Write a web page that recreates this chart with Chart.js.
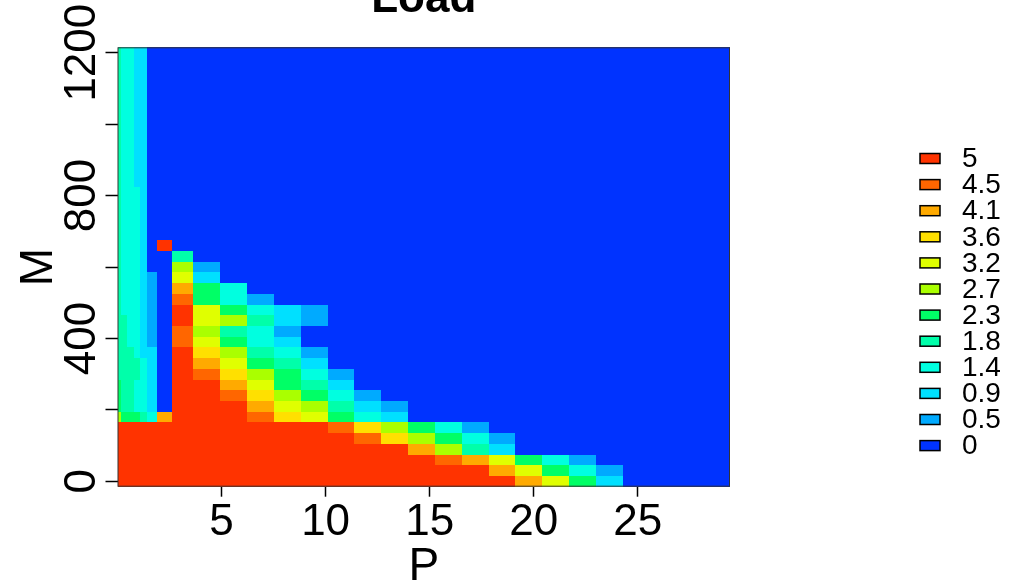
<!DOCTYPE html>
<html>
<head>
<meta charset="utf-8">
<script src="https://cdn.jsdelivr.net/npm/chart.js@4.4.1/dist/chart.umd.min.js"></script>
<style>
  body { margin: 0; background: #fff; }
  #wrap { width: 1023px; height: 587px; position: relative; }
</style>
</head>
<body>
<div id="wrap"><canvas id="loadChart"></canvas></div>
<script>
// P column breaks (cell edges), M row values (cell centres, 30 apart)
const pEdges = [0, 0.16, 0.46, 0.77, 1.06, 1.44, 1.92, 2.60, 3.65,
  4.94, 6.23, 7.52, 8.81, 10.10, 11.38, 12.67, 13.96, 15.25, 16.54,
  17.83, 19.12, 20.41, 21.70, 22.98, 24.27, 25.56, 26.85, 28.14, 29.43];
const mValues = [1200, 1170, 1140, 1110, 1080, 1050, 1020, 990, 960, 930, 900, 870, 840, 810,
  780, 750, 720, 690, 660, 630, 600, 570, 540, 510, 480, 450, 420, 390, 360, 330, 300,
  270, 240, 210, 180, 150, 120, 90, 60, 30, 0];
const mStep = 30;

// Load, one row per M value (top row = M 1200), one column per P cell
const load = [
  [1.8,1.4,1.4,0.9,0.9, 0,0,0,0,0, 0,0,0,0,0, 0,0,0,0,0, 0,0,0,0,0, 0,0,0],
  [1.8,1.4,1.4,0.9,0.9, 0,0,0,0,0, 0,0,0,0,0, 0,0,0,0,0, 0,0,0,0,0, 0,0,0],
  [1.8,1.4,1.4,0.9,0.9, 0,0,0,0,0, 0,0,0,0,0, 0,0,0,0,0, 0,0,0,0,0, 0,0,0],
  [1.8,1.4,1.4,0.9,0.9, 0,0,0,0,0, 0,0,0,0,0, 0,0,0,0,0, 0,0,0,0,0, 0,0,0],
  [1.8,1.4,1.4,0.9,0.9, 0,0,0,0,0, 0,0,0,0,0, 0,0,0,0,0, 0,0,0,0,0, 0,0,0],
  [1.8,1.4,1.4,0.9,0.9, 0,0,0,0,0, 0,0,0,0,0, 0,0,0,0,0, 0,0,0,0,0, 0,0,0],
  [1.8,1.4,1.4,0.9,0.9, 0,0,0,0,0, 0,0,0,0,0, 0,0,0,0,0, 0,0,0,0,0, 0,0,0],
  [1.8,1.4,1.4,0.9,0.9, 0,0,0,0,0, 0,0,0,0,0, 0,0,0,0,0, 0,0,0,0,0, 0,0,0],
  [1.8,1.4,1.4,0.9,0.9, 0,0,0,0,0, 0,0,0,0,0, 0,0,0,0,0, 0,0,0,0,0, 0,0,0],
  [1.8,1.4,1.4,0.9,0.9, 0,0,0,0,0, 0,0,0,0,0, 0,0,0,0,0, 0,0,0,0,0, 0,0,0],
  [1.8,1.4,1.4,0.9,0.9, 0,0,0,0,0, 0,0,0,0,0, 0,0,0,0,0, 0,0,0,0,0, 0,0,0],
  [1.8,1.4,1.4,0.9,0.9, 0,0,0,0,0, 0,0,0,0,0, 0,0,0,0,0, 0,0,0,0,0, 0,0,0],
  [1.8,1.4,1.4,0.9,0.9, 0,0,0,0,0, 0,0,0,0,0, 0,0,0,0,0, 0,0,0,0,0, 0,0,0],
  [1.8,1.4,1.4,1.4,0.9, 0,0,0,0,0, 0,0,0,0,0, 0,0,0,0,0, 0,0,0,0,0, 0,0,0],
  [1.8,1.4,1.4,1.4,0.9, 0,0,0,0,0, 0,0,0,0,0, 0,0,0,0,0, 0,0,0,0,0, 0,0,0],
  [1.8,1.4,1.4,1.4,0.9, 0,0,0,0,0, 0,0,0,0,0, 0,0,0,0,0, 0,0,0,0,0, 0,0,0],
  [1.8,1.4,1.4,1.4,0.9, 0,0,0,0,0, 0,0,0,0,0, 0,0,0,0,0, 0,0,0,0,0, 0,0,0],
  [1.8,1.4,1.4,1.4,0.9, 0,0,0,0,0, 0,0,0,0,0, 0,0,0,0,0, 0,0,0,0,0, 0,0,0],
  [1.8,1.4,1.4,1.4,0.9, 0,5,0,0,0, 0,0,0,0,0, 0,0,0,0,0, 0,0,0,0,0, 0,0,0],
  [1.8,1.4,1.4,1.4,0.9, 0,0,1.8,0,0, 0,0,0,0,0, 0,0,0,0,0, 0,0,0,0,0, 0,0,0],
  [1.8,1.4,1.4,1.4,0.9, 0,0,2.7,0.5,0, 0,0,0,0,0, 0,0,0,0,0, 0,0,0,0,0, 0,0,0],
  [1.8,1.4,1.4,1.4,0.9, 0.5,0,3.2,0.9,0, 0,0,0,0,0, 0,0,0,0,0, 0,0,0,0,0, 0,0,0],
  [1.8,1.4,1.4,1.4,0.9, 0.5,0,4.1,2.3,1.4, 0,0,0,0,0, 0,0,0,0,0, 0,0,0,0,0, 0,0,0],
  [1.8,1.4,1.4,1.4,0.9, 0.5,0,4.5,2.3,1.4, 0.5,0,0,0,0, 0,0,0,0,0, 0,0,0,0,0, 0,0,0],
  [1.8,1.4,1.4,1.4,0.9, 0.5,0,5,3.2,2.3, 1.4,0.9,0.5,0,0, 0,0,0,0,0, 0,0,0,0,0, 0,0,0],
  [1.8,1.8,1.4,1.4,0.9, 0.5,0,5,3.2,2.7, 1.8,0.9,0.5,0,0, 0,0,0,0,0, 0,0,0,0,0, 0,0,0],
  [1.8,1.8,1.4,1.4,0.9, 0.5,0,4.5,2.7,1.8, 1.4,0.5,0,0,0, 0,0,0,0,0, 0,0,0,0,0, 0,0,0],
  [1.8,1.8,1.4,1.4,0.9, 0.5,0,4.5,3.2,2.3, 1.4,0.9,0,0,0, 0,0,0,0,0, 0,0,0,0,0, 0,0,0],
  [1.8,1.8,1.8,1.4,0.9, 0.9,0,5,3.6,2.7, 1.8,1.4,0.5,0,0, 0,0,0,0,0, 0,0,0,0,0, 0,0,0],
  [1.8,1.8,1.8,1.8,1.4, 0.9,0,5,4.1,3.2, 2.3,1.8,0.9,0,0, 0,0,0,0,0, 0,0,0,0,0, 0,0,0],
  [1.8,1.8,1.8,1.8,1.4, 0.9,0,5,4.5,3.6, 2.7,2.3,1.4,0.5,0, 0,0,0,0,0, 0,0,0,0,0, 0,0,0],
  [2.3,1.8,1.8,1.4,1.4, 0.9,0,5,5,4.1, 3.2,2.3,1.8,0.9,0, 0,0,0,0,0, 0,0,0,0,0, 0,0,0],
  [2.3,1.8,1.8,1.4,1.4, 0.9,0,5,5,4.5, 3.6,2.7,2.3,1.4,0.5, 0,0,0,0,0, 0,0,0,0,0, 0,0,0],
  [2.3,1.8,1.8,1.4,1.4, 0.9,0,5,5,5, 4.1,3.2,2.7,1.8,0.9, 0.5,0,0,0,0, 0,0,0,0,0, 0,0,0],
  [2.7,2.3,2.3,2.3,1.8, 1.4,4.1,5,5,5, 4.5,3.6,3.2,2.3,1.4, 0.9,0,0,0,0, 0,0,0,0,0, 0,0,0],
  [5,5,5,5,5, 5,5,5,5,5, 5,5,5,4.5,3.6, 2.7,2.3,1.4,0.5,0, 0,0,0,0,0, 0,0,0],
  [5,5,5,5,5, 5,5,5,5,5, 5,5,5,5,4.5, 3.6,2.7,2.3,1.4,0.5, 0,0,0,0,0, 0,0,0],
  [5,5,5,5,5, 5,5,5,5,5, 5,5,5,5,5, 5,4.1,2.7,1.8,0.9, 0,0,0,0,0, 0,0,0],
  [5,5,5,5,5, 5,5,5,5,5, 5,5,5,5,5, 5,5,4.5,4.1,3.2, 2.3,1.4,0.5,0,0, 0,0,0],
  [5,5,5,5,5, 5,5,5,5,5, 5,5,5,5,5, 5,5,5,5,4.1, 3.2,2.3,1.4,0.5,0, 0,0,0],
  [5,5,5,5,5, 5,5,5,5,5, 5,5,5,5,5, 5,5,5,5,5, 4.1,3.2,2.3,0.9,0, 0,0,0]
];

const levels = [5, 4.5, 4.1, 3.6, 3.2, 2.7, 2.3, 1.8, 1.4, 0.9, 0.5, 0];
const levelColors = ['#FF3300', '#FF6600', '#FFAA00', '#FFE000', '#E0FF00', '#AAFF00',
  '#00FF66', '#00FFAA', '#00FFE0', '#00E0FF', '#00AAFF', '#0033FF'];

const xTicks = [5, 10, 15, 20, 25];
const yTicks = [0, 200, 400, 600, 800, 1000, 1200];
const yLabelled = [0, 400, 800, 1200];

const FONT = "'Liberation Sans', Arial, sans-serif";
Chart.defaults.font.family = FONT;
Chart.defaults.color = '#000';

// draws the grid cells through the chart's scales
const heatmap = {
  id: 'heatmap',
  beforeDatasetsDraw(chart) {
    const { ctx, scales: { x, y } } = chart;
    ctx.save();
    load.forEach((row, i) => {
      const top = Math.round(y.getPixelForValue(mValues[i] + mStep / 2));
      const bottom = Math.round(y.getPixelForValue(mValues[i] - mStep / 2));
      row.forEach((v, j) => {
        const left = Math.round(x.getPixelForValue(pEdges[j]));
        const right = Math.round(x.getPixelForValue(pEdges[j + 1]));
        ctx.fillStyle = levelColors[levels.indexOf(v)];
        ctx.fillRect(left, top, right - left, bottom - top);
      });
    });
    ctx.restore();
  },
  afterDatasetsDraw(chart) {
    const { ctx, chartArea: a } = chart;
    ctx.save();
    ctx.strokeStyle = '#333';
    ctx.lineWidth = 1;
    ctx.strokeRect(a.left + 0.5, a.top + 0.5, a.right - a.left - 1, a.bottom - a.top - 1);
    ctx.restore();
  }
};

// title and colour key
const decorations = {
  id: 'decorations',
  afterDraw(chart) {
    const { ctx, chartArea: a } = chart;
    ctx.save();
    ctx.fillStyle = '#000';
    ctx.font = 'bold 44px ' + FONT;
    ctx.textAlign = 'center';
    ctx.textBaseline = 'alphabetic';
    ctx.fillText('Load', (a.left + a.right) / 2, 12);

    ctx.font = '28px ' + FONT;
    ctx.textAlign = 'left';
    ctx.textBaseline = 'middle';
    levels.forEach((lv, i) => {
      const cy = 158.5 + i * 26.1;
      ctx.fillStyle = levelColors[i];
      ctx.fillRect(920, cy - 5, 20, 10);
      ctx.strokeStyle = '#000';
      ctx.lineWidth = 1.5;
      ctx.strokeRect(920, cy - 5, 20, 10);
      ctx.fillStyle = '#000';
      ctx.fillText(String(lv), 962, cy + 1);
    });
    ctx.restore();
  }
};

new Chart(document.getElementById('loadChart'), {
  type: 'scatter',
  data: { datasets: [] },
  plugins: [heatmap, decorations],
  options: {
    responsive: true,
    maintainAspectRatio: false,
    animation: false,
    layout: { padding: { top: 47.3, right: 293, left: 0, bottom: 0 } },
    plugins: { legend: { display: false }, tooltip: { enabled: false } },
    scales: {
      x: {
        type: 'linear',
        min: 0,
        max: 29.43,
        afterBuildTicks: s => { s.ticks = xTicks.map(v => ({ value: v })); },
        afterFit: s => { s.height = 100.3; },
        grid: { drawOnChartArea: false, tickLength: 10, tickWidth: 1.5, tickColor: '#000' },
        border: { display: false },
        ticks: { font: { size: 44 }, padding: 0, maxRotation: 0, autoSkip: false, color: '#000' },
        title: { display: true, text: 'P', color: '#000', font: { size: 46 }, padding: { top: 0, bottom: -8 } }
      },
      y: {
        type: 'linear',
        min: -15,
        max: 1215,
        afterBuildTicks: s => { s.ticks = yTicks.map(v => ({ value: v })); },
        afterFit: s => { s.width = 117.5; },
        grid: { drawOnChartArea: false, tickLength: 12, tickWidth: 1.5, tickColor: '#000' },
        border: { display: false },
        ticks: {
          font: { size: 44 }, color: '#000', minRotation: 90, maxRotation: 90,
          crossAlign: 'center', padding: -26, autoSkip: false,
          callback: v => yLabelled.includes(v) ? String(v) : ''
        },
        title: { display: true, text: 'M', color: '#000', font: { size: 46 }, padding: { top: 12, bottom: 0 } }
      }
    }
  }
});
</script>
</body>
</html>
